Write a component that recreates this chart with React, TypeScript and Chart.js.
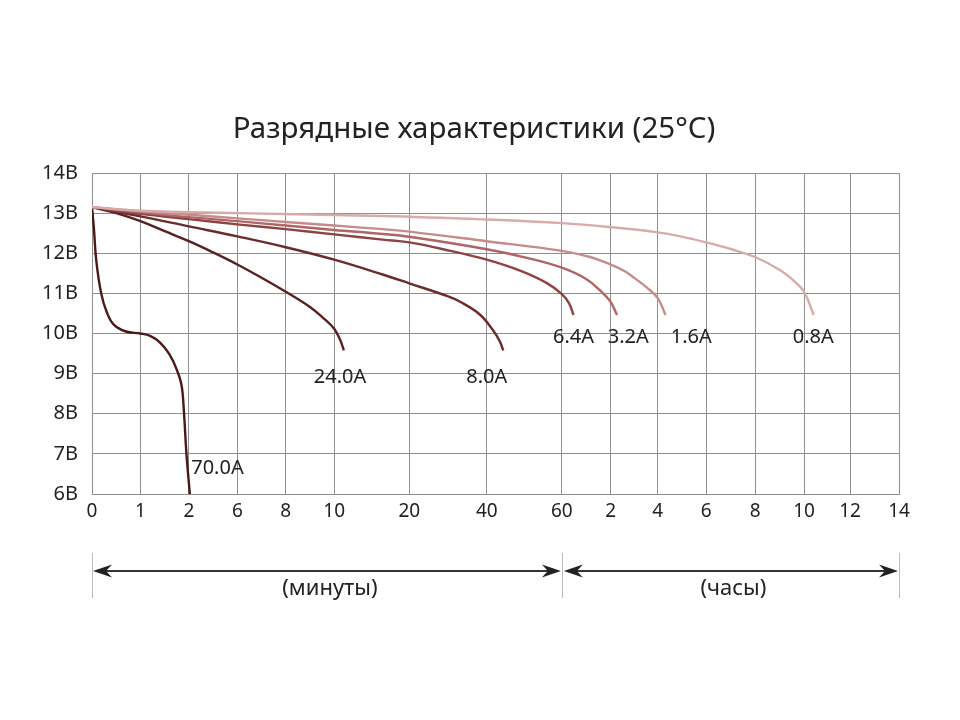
import { useEffect, useRef } from 'react';
import { Chart, registerables } from 'chart.js';

Chart.register(...registerables);

// x axis: grid positions (in grid units) and their tick labels
const gridPositions = [0, 1, 2, 3, 4, 5, 6.55, 8.15, 9.7, 10.71, 11.68, 12.68, 13.69, 14.7, 15.65, 16.66];
const tickLabels = ['0', '1', '2', '6', '8', '10', '20', '40', '60', '2', '4', '6', '8', '10', '12', '14'];

// y axis (volts)
const yMin = 6;
const yMax = 14;

// discharge curves: [x in grid units, volts]
const curve70A: [number, number][] = [
  [0, 13.15], [0.04, 12.6], [0.09, 11.8], [0.19, 11.0], [0.3, 10.55], [0.45, 10.22],
  [0.7, 10.05], [1.0, 10.0], [1.2, 9.94], [1.4, 9.78], [1.6, 9.48], [1.75, 9.1],
  [1.85, 8.7], [1.9, 8.0], [1.95, 7.0], [2.02, 6.0],
];
const curve24A: [number, number][] = [
  [0, 13.15], [0.5, 13.0], [1, 12.8], [1.5, 12.55], [2, 12.3], [2.5, 12.02], [3, 11.72],
  [3.5, 11.39], [4, 11.04], [4.5, 10.66], [4.8, 10.36], [5.0, 10.12], [5.12, 9.85], [5.2, 9.58],
];
const curve8A: [number, number][] = [
  [0, 13.15], [1, 12.92], [2, 12.67], [3, 12.42], [4, 12.15], [5, 11.84], [6, 11.47],
  [6.55, 11.25], [7.34, 10.93], [7.6, 10.79], [8.0, 10.48], [8.28, 10.08], [8.42, 9.8], [8.49, 9.58],
];
const curve6_4A: [number, number][] = [
  [0, 13.15], [1, 12.98], [2, 12.85], [3, 12.72], [4, 12.6], [5, 12.47], [6, 12.34],
  [6.55, 12.27], [7.4, 12.06], [8.15, 11.84], [8.85, 11.56], [9.4, 11.25], [9.7, 10.98],
  [9.85, 10.75], [9.94, 10.46],
];
const curve3_2A: [number, number][] = [
  [0, 13.15], [1, 13.02], [2, 12.9], [3, 12.8], [4, 12.69], [5, 12.58], [6, 12.48],
  [6.55, 12.41], [8.15, 12.1], [9.0, 11.88], [9.7, 11.64], [10.2, 11.36], [10.5, 11.06],
  [10.7, 10.8], [10.84, 10.46],
];
const curve1_6A: [number, number][] = [
  [0, 13.15], [1, 13.05], [2, 12.96], [3, 12.87], [4, 12.78], [5, 12.69], [6, 12.6],
  [6.55, 12.54], [8.15, 12.3], [9.7, 12.06], [10.3, 11.9], [10.7, 11.72], [11.0, 11.55],
  [11.2, 11.38], [11.45, 11.15], [11.68, 10.88], [11.84, 10.46],
];
const curve0_8A: [number, number][] = [
  [0, 13.15], [1, 13.06], [3, 13.0], [6, 12.93], [8.15, 12.84], [9.7, 12.75], [10.7, 12.65],
  [11.68, 12.52], [12.15, 12.42], [12.68, 12.27], [13.2, 12.1], [13.7, 11.9], [14.2, 11.58],
  [14.5, 11.3], [14.7, 11.04], [14.9, 10.46],
];

const seriesCurves = [curve0_8A, curve1_6A, curve3_2A, curve6_4A, curve8A, curve24A, curve70A];
const seriesColors = ['#d8aaaa', '#c68c8c', '#b06464', '#8e4242', '#6c2b2b', '#5a2020', '#4a1818'];

// curve labels: text and anchor (x in grid units, volts)
const seriesLabels = ['70.0A', '24.0A', '8.0A', '6.4A', '3.2A', '1.6A', '0.8A'];
const labelX = [2.59, 5.12, 8.15, 9.94, 11.07, 12.37, 14.89];
const labelY = [6.63, 8.9, 8.9, 9.9, 9.9, 9.9, 9.9];

const titleText = 'Разрядные характеристики (25°C)';
const minutesText = '(минуты)';
const hoursText = '(часы)';
const FONT = "'Noto Sans', 'Open Sans', sans-serif";

function arrowHead(ctx: CanvasRenderingContext2D, x: number, y: number, dir: number) {
  ctx.beginPath();
  ctx.moveTo(x, y);
  ctx.lineTo(x + dir * 19, y - 6.5);
  ctx.lineTo(x + dir * 13, y);
  ctx.lineTo(x + dir * 19, y + 6.5);
  ctx.closePath();
  ctx.fill();
}

const overlayPlugin = {
  id: 'overlay',
  afterDatasetsDraw(chart: any) {
    const ctx: CanvasRenderingContext2D = chart.ctx;
    const xs = chart.scales.x;
    const ys = chart.scales.y;
    ctx.save();
    ctx.fillStyle = '#222';
    ctx.textAlign = 'center';
    ctx.textBaseline = 'middle';

    // title
    ctx.font = `29.5px ${FONT}`;
    ctx.fillText(titleText, 474, 130);

    ctx.font = `20px ${FONT}`;
    seriesLabels.forEach((t, i) => {
      ctx.fillText(t, xs.getPixelForValue(labelX[i]), ys.getPixelForValue(labelY[i]));
    });

    // bottom range arrows
    const x0 = xs.getPixelForValue(gridPositions[0]);
    const xm = xs.getPixelForValue(gridPositions[8]);
    const x1 = xs.getPixelForValue(gridPositions[gridPositions.length - 1]);
    const ay = 571;
    ctx.strokeStyle = '#bdbdbd';
    ctx.lineWidth = 1;
    [x0, xm, x1].forEach((x) => {
      ctx.beginPath();
      ctx.moveTo(Math.round(x) + 0.5, 553);
      ctx.lineTo(Math.round(x) + 0.5, 598);
      ctx.stroke();
    });
    ctx.strokeStyle = '#333';
    ctx.fillStyle = '#222';
    ctx.lineWidth = 2.2;
    ctx.beginPath();
    ctx.moveTo(x0 + 12, ay);
    ctx.lineTo(xm - 12, ay);
    ctx.moveTo(xm + 14, ay);
    ctx.lineTo(x1 - 12, ay);
    ctx.stroke();
    arrowHead(ctx, x0 + 1, ay, 1);
    arrowHead(ctx, xm - 1, ay, -1);
    arrowHead(ctx, xm + 2, ay, 1);
    arrowHead(ctx, x1 - 1, ay, -1);

    ctx.fillStyle = '#222';
    ctx.font = `22px ${FONT}`;
    ctx.fillText(minutesText, (x0 + xm) / 2 + 3, 589);
    ctx.fillText(hoursText, (xm + x1) / 2 + 3, 589);
    ctx.restore();
  },
};

export default function App() {
  const ref = useRef<HTMLCanvasElement>(null);
  useEffect(() => {
    if (!ref.current) return;
    const datasets = seriesCurves.map((c, i) => ({
      label: seriesLabels[seriesLabels.length - 1 - i],
      data: c.map(([x, y]) => ({ x, y })),
      borderColor: seriesColors[i],
      backgroundColor: seriesColors[i],
      borderWidth: 2.4,
      pointRadius: 0,
      fill: false,
      tension: 0.4,
    }));
    const chart = new Chart(ref.current, {
      type: 'line',
      data: { datasets },
      plugins: [overlayPlugin],
      options: {
        animation: false,
        responsive: false,
        events: [],
        layout: { padding: { left: 0, right: 61, top: 173, bottom: 186 } },
        plugins: {
          legend: { display: false },
          tooltip: { enabled: false },
          title: { display: false },
        },
        scales: {
          x: {
            type: 'linear',
            min: gridPositions[0],
            max: gridPositions[gridPositions.length - 1],
            afterBuildTicks: (scale: any) => {
              scale.ticks = gridPositions.map((v) => ({ value: v }));
            },
            afterFit: (scale: any) => {
              scale.height = 40;
            },
            ticks: {
              autoSkip: false,
              maxRotation: 0,
              padding: 6,
              color: '#222',
              font: { family: FONT, size: 19 },
              callback: (_v: any, i: number) => tickLabels[i],
            },
            grid: { color: '#8f8f8f', lineWidth: 1, drawTicks: false },
            border: { color: '#8f8f8f' },
          },
          y: {
            type: 'linear',
            min: yMin,
            max: yMax,
            afterFit: (scale: any) => {
              scale.width = 92;
            },
            ticks: {
              stepSize: 1,
              padding: 14,
              color: '#222',
              font: { family: FONT, size: 20 },
              callback: (v: any) => `${v}В`,
            },
            grid: { color: '#8f8f8f', lineWidth: 1, drawTicks: false },
            border: { color: '#8f8f8f' },
          },
        },
      },
    });
    return () => chart.destroy();
  }, []);
  return (
    <div style={{ position: 'absolute', left: 0, top: 0, width: 960, height: 720, background: '#fff' }}>
      <canvas ref={ref} width={960} height={720} />
    </div>
  );
}
